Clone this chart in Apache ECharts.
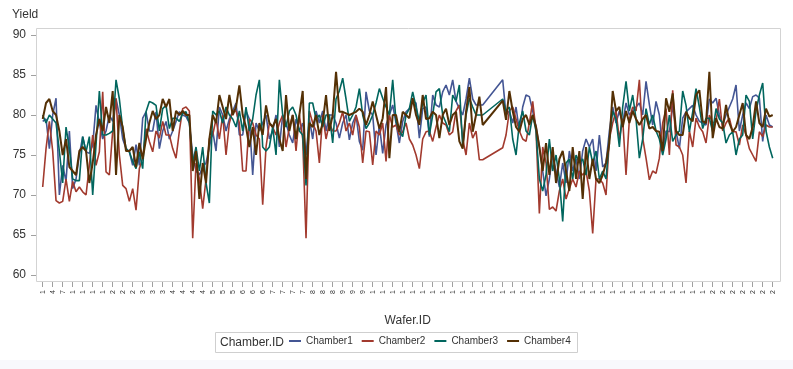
<!DOCTYPE html>
<html>
<head>
<meta charset="utf-8">
<script src="https://cdn.jsdelivr.net/npm/echarts@6/dist/echarts.min.js"></script>
<style>
html,body{margin:0;padding:0;background:#fff;}
#c{width:793px;height:369px;}
</style>
</head>
<body>
<div id="c"></div>
<script>
const seriesNames = ['Chamber1', 'Chamber2', 'Chamber3', 'Chamber4'];
const yTicks = [60, 65, 70, 75, 80, 85, 90];

const chamber1 = [
79.2,79.5,75.8,80,82.1,70,73.7,71.7,78,70.8,72,75,77.3,75.4,75.2,76.2,81.2,79,77,78,80,79.2,82,80,77,75.8,75.4,73.7,76.3,73.7,79.6,80.4,78,78,80.4,75.8,78,79.2,77,78,79.2,80.4,80,79.8,
79,75,73,72.5,73.5,74,76,78,75.5,81,80,78,79.5,80.5,81.5,77.5,77.5,80.5,79.5,72.5,79,78,79,80,77,78,80,76,80,79,77.5,76.5,79.5,78,79,75,79.5,77,80.5,79,80.5,78,80,80,
79,77.1,79,80,76.9,79,80,76.7,75.6,82.9,80.5,80,75,78.75,75.2,78.75,80,81.25,79,76.5,79.2,80.4,80.8,81.7,81.5,77.1,80.8,81,77.3,82.5,81.25,81,82.9,83.75,82.5,84.4,81.7,80.8,80,82,84.6,82,81.25,81.25,81.25,
null,null,null,null,null,
84.4,80,80.5,79,81,78,81,82.5,82.3,80.5,78.5,76,73,69.9,72,75,73,71,74,71.5,75.5,73,74.5,72,75.5,77,76,77,73,77.5,73.5,74,78,81,79,80.5,79,81.5,80,80.5,81,
81.5,80,84.2,81.3,78.75,81.7,80,75.5,78,77.9,81.2,78,75.8,79.6,80.4,80.8,81.2,80,79.2,79,78.75,82,81.5,82.1,80,78.75,80,81,82,83.75,78,80,81.5,80.8,82.3,82.5,82.1,76.7,80,78.75,78.5
];
const chamber2 = [
71,75.8,79.2,75.5,69.3,69,69.2,72,69.2,71.7,70.4,71,70.4,70,73.7,77.5,73.7,75.4,82.9,72.9,72.5,78,82.1,75,71.2,70.8,69.2,70.8,68.1,73.3,74.6,78.3,76.7,75.4,78,77.1,79.2,77.5,77.5,75.8,74.6,78,80.8,81,
80.5,64.6,74,72,68.3,72,77,77.5,79.5,77,80,75,79,80.5,80.5,79,73,73,79.5,79,77.5,77,68.8,76,79,78.5,77.5,79,80,76,78.5,80,75.5,80,77,64.6,80.5,79,78,74,80,77,79,78,
78,79,80.4,78,79,77.5,80,78.5,74,78,77.9,73.75,78,77.5,79,74.2,80,78.5,78.75,77.5,77.9,79,77,76.25,75,73.3,77,77.9,78,76.7,78.5,80,79,78.75,77.5,77.9,80.5,81.25,77,75,79,77.1,78,74.4,74.4,
null,null,null,null,null,
75.9,77.5,80.5,81,79.5,78,77,76.7,79,81.7,78,67.7,76,74,68.2,68.5,68,70.5,72,69.5,70.8,72,71,73,72.5,73,70.5,65.2,72,72,71.5,70,77,79,80.5,77,79.5,72.5,79.5,81,80.5,
84.4,77.1,74.6,71.9,73,72.7,74.6,79,80.8,75,83.1,76.25,76,75,71.5,78,76,79.6,78.5,77.9,76.5,80,79,79.2,82,78,79,79.6,77.9,77.9,76.25,78.75,77.5,75.8,75,74.2,77.9,77.3,78.75,78.5,78.5
];
const chamber3 = [
80,79,80,79.5,79,75.5,71.5,78.5,75.8,72,71.8,71.8,77.3,75.4,77.3,70,76.3,83,77.5,77.5,77.7,78,84.4,82,78.3,75.8,75.4,74.2,73.3,75.4,73.3,80.4,81.7,81.5,81.2,78,80.8,81.2,78.3,79.6,79.6,79.2,80.2,80.4,
79,74,76,73,76,71.5,69,80.5,80,80.5,79,81,80,79.5,78.5,80.5,78,81,78,79.5,82.5,84.4,76,75.5,76,78.5,75,84.4,80,78.5,80.5,81,80,78,77.5,71.2,81.5,81.5,79.5,80,78.5,80,80,76.5,
82,83,84.6,82,79.2,80,81,83.3,80,78.3,79,80,81.5,83.3,82.1,81,80,84.4,79.2,78,77.3,80,80.8,82.9,81,79.2,81.5,82.5,77.5,80,82.9,83.3,80,79,77.9,82.5,81.7,83.75,76,80,82.1,81,80,80,80,
null,null,null,null,null,
82,80.5,81,77,75,79,80.5,78,77.5,80,78,72,70.5,72.5,77,73,75,72,66.7,74,74.5,72,75,74,74.5,72.5,76,74,75.5,72,73,72,77,80.5,79.5,76,81,84.2,80.5,82.5,79.5,
74.6,77,80.8,78.8,80,78,77,75,77,80,76.7,77.5,78,83,81.2,77.9,80.4,83.3,81,78.3,79.6,79.6,77.9,80.8,79.5,79,76.5,77.5,77.9,75,77,77.5,82.5,81.7,77,80.5,82.5,84,78,76,74.6
];
const chamber4 = [
79.5,81.5,82,80.5,80,78,75,77,73.5,73,72.5,75.5,76,75.5,71.5,74,77.5,79.5,78,81,79,83,72.5,80,78.5,75.5,75.5,76,73.5,76.5,74.5,77,79,80.5,79.5,80,82,81,82,78,80.5,80,80.5,80,
80,73,75.5,69.5,74,71.5,77,80,79,82.5,81,79.5,82.5,80,81,83.7,80,78.5,76,78.5,75,79,77.5,81.2,79,78.5,79.5,77,75.5,82.5,78,80,77,80,83,72,79,78.5,80,77.5,79,82.5,78,80,
85.4,80.4,80.4,80.2,80,80.2,80.4,80.8,80.4,78.75,80,81.7,80,78.3,79.6,83.5,74.6,80,80,77.9,80.4,80,79.6,82.1,80,78.75,82.5,79.5,79.6,80.4,80,77.1,80,80.8,78.75,80,80.4,76.7,75.8,80.4,83.5,77.9,80,82.3,78.75,
null,null,null,null,null,
81.8,79.4,83,80.5,78.5,77.9,79.5,80,78.8,80,78.5,76,73,76.5,72.5,76,71.5,74.5,75.5,73,70.5,76,72,75.5,69.5,76,72,74.5,72,71.5,72.5,74,76.5,83,80.5,81,78.5,80.5,79,80.5,79.5,
78.75,79.5,80,78.3,78.5,78,77.9,75.5,82.1,80.4,82.7,78,77.5,77.5,80.4,79.6,79.2,82.5,83.1,79.2,79,85.4,77.1,79.6,78.5,78.3,81.25,79,77.9,78.5,80,81.5,77.5,77,78.5,81.7,79,78.5,80.8,79.8,80
];

// Wafer IDs (category labels)
const waferIds = [];
for (let i = 0; i < chamber1.length; i++) waferIds.push(String(1 + i));

const colors = ['#445694', '#A23A2E', '#01665E', '#543005'];
const FONT = '"Liberation Sans", Arial, sans-serif';

const chart = echarts.init(document.getElementById('c'), null, {renderer: 'canvas'});
const dataSets = [chamber1, chamber2, chamber3, chamber4];

chart.setOption({
  animation: false,
  backgroundColor: '#ffffff',
  color: colors,
  textStyle: {fontFamily: FONT},
  grid: {left: 42.7, right: 20.3, top: 28, bottom: 87, containLabel: false},
  xAxis: {
    type: 'category',
    data: waferIds,
    boundaryGap: false,
    name: 'Wafer.ID',
    nameLocation: 'middle',
    nameGap: 33,
    nameTextStyle: {fontSize: 12, color: '#333', fontFamily: FONT},
    axisLine: {show: false},
    axisTick: {show: true, inside: false, interval: 2, length: 5, lineStyle: {color: '#a0a0a0'}},
    axisLabel: {
      show: true, interval: 2, rotate: 90, fontSize: 7, color: '#333', margin: 8,
      width: 5, overflow: 'truncate', ellipsis: ''
    },
    splitLine: {show: false}
  },
  yAxis: {
    type: 'value',
    min: 59.125,
    max: 90.875,
    offset: 6.7,
    axisLine: {show: false},
    axisTick: {show: true, inside: false, length: 5, customValues: yTicks, lineStyle: {color: '#a0a0a0'}},
    axisLabel: {customValues: yTicks, fontSize: 12, color: '#333', margin: 10, fontFamily: FONT},
    splitLine: {show: false}
  },
  legend: {
    left: 289,
    top: 336,
    padding: 0,
    icon: 'rect',
    itemWidth: 12,
    itemHeight: 2,
    itemGap: 9,
    textStyle: {fontSize: 10, color: '#333', fontFamily: FONT},
    data: seriesNames
  },
  graphic: [
    {type: 'rect', silent: true, z: 0, shape: {x: 0, y: 360, width: 793, height: 9}, style: {fill: '#f8f8fc'}},
    {type: 'rect', silent: true, z: 1, shape: {x: 36.5, y: 28.5, width: 744, height: 253}, style: {fill: 'none', stroke: '#d3d3d3', lineWidth: 1}},
    {type: 'text', silent: true, left: 12, top: 9, style: {text: 'Yield', fontSize: 12, fill: '#333', font: '12px ' + FONT}},
    {type: 'rect', silent: true, z: 1, shape: {x: 215.5, y: 332.5, width: 362, height: 20}, style: {fill: '#fff', stroke: '#cfcfcf', lineWidth: 1}},
    {type: 'text', silent: true, z: 2, x: 220, y: 342.5, style: {text: 'Chamber.ID', font: '12px ' + FONT, fill: '#333', verticalAlign: 'middle', align: 'left'}}
  ],
  series: dataSets.map((d, i) => ({
    name: seriesNames[i],
    type: 'line',
    data: d,
    connectNulls: true,
    showSymbol: false,
    symbol: 'none',
    lineStyle: {width: i === 3 ? 2 : 1.6, color: colors[i]},
    itemStyle: {color: colors[i]},
    z: 3 + i
  }))
});
</script>
</body>
</html>
